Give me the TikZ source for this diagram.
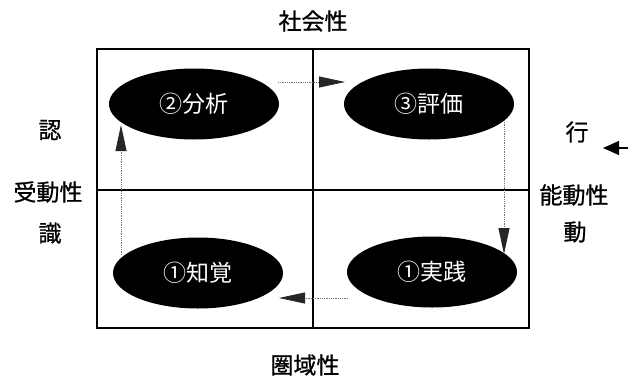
\documentclass[tikz,border=0pt]{standalone}
\usepackage{fontspec}
\setmainfont{Noto Sans CJK JP}
\newfontfamily\labfont[FakeBold=0.8]{Noto Sans CJK JP}
\usetikzlibrary{arrows.meta,shapes.geometric}
\begin{document}
\begin{tikzpicture}[x=1pt,y=-1pt,
  boxline/.style={line width=1.3pt, black},
  oval/.style={ellipse, fill=black, minimum width=170pt, minimum height=71pt, inner sep=0pt, text=white, font=\fontsize{23}{23}\selectfont},
  lab/.style={font=\labfont\fontsize{23}{23}\selectfont, inner sep=0pt},
  flow/.style={densely dotted, line width=0.8pt, black!55, -{Triangle[length=26pt,width=11pt,color=black!85]}},
  sidearrow/.style={line width=1.2pt, black, -{Triangle[length=16pt,width=14pt]}}
]
\useasboundingbox (0,0) rectangle (628,378);
\fill[white] (0,0) rectangle (628,378);
% frame
\draw[boxline] (97,49) rectangle (529,328);
\draw[boxline] (313,49) -- (313,328);
\draw[boxline] (97,190) -- (529,190);
% ellipses
\node[oval] (n2) at (194,104) {②分析};
\node[oval] (n3) at (429,104) {③評価};
\node[oval] (n1) at (198,273) {①知覚};
\node[oval] (n4) at (432,272) {①実践};
% connector ends
\coordinate (a1s) at (278,82);
\coordinate (a1e) at (345,82);
\coordinate (a2s) at (504,120);
\coordinate (a2e) at (504,254);
\coordinate (a3s) at (348,298);
\coordinate (a3e) at (279,298);
\coordinate (a4s) at (121,255);
\coordinate (a4e) at (121,125);
\draw[flow] (a1s) -- (a1e);
\draw[flow] (a2s) -- (a2e);
\draw[flow] (a3s) -- (a3e);
\draw[flow] (a4s) -- (a4e);
% labels
\node[lab] (top) at (313,21) {社会性};
\node[lab] (bottom) at (305,365) {圏域性};
\node[lab] (l1) at (50,130) {認};
\node[lab] (l2) at (48,192) {受動性};
\node[lab] (l3) at (50,233) {識};
\node[lab] (r1) at (577,132) {行};
\node[lab] (r2) at (574,195) {能動性};
\node[lab] (r3) at (575,232) {動};
\coordinate (sa) at (629,148);
\coordinate (sb) at (603,148);
\draw[sidearrow] (sa) -- (sb);
\end{tikzpicture}
\end{document}
